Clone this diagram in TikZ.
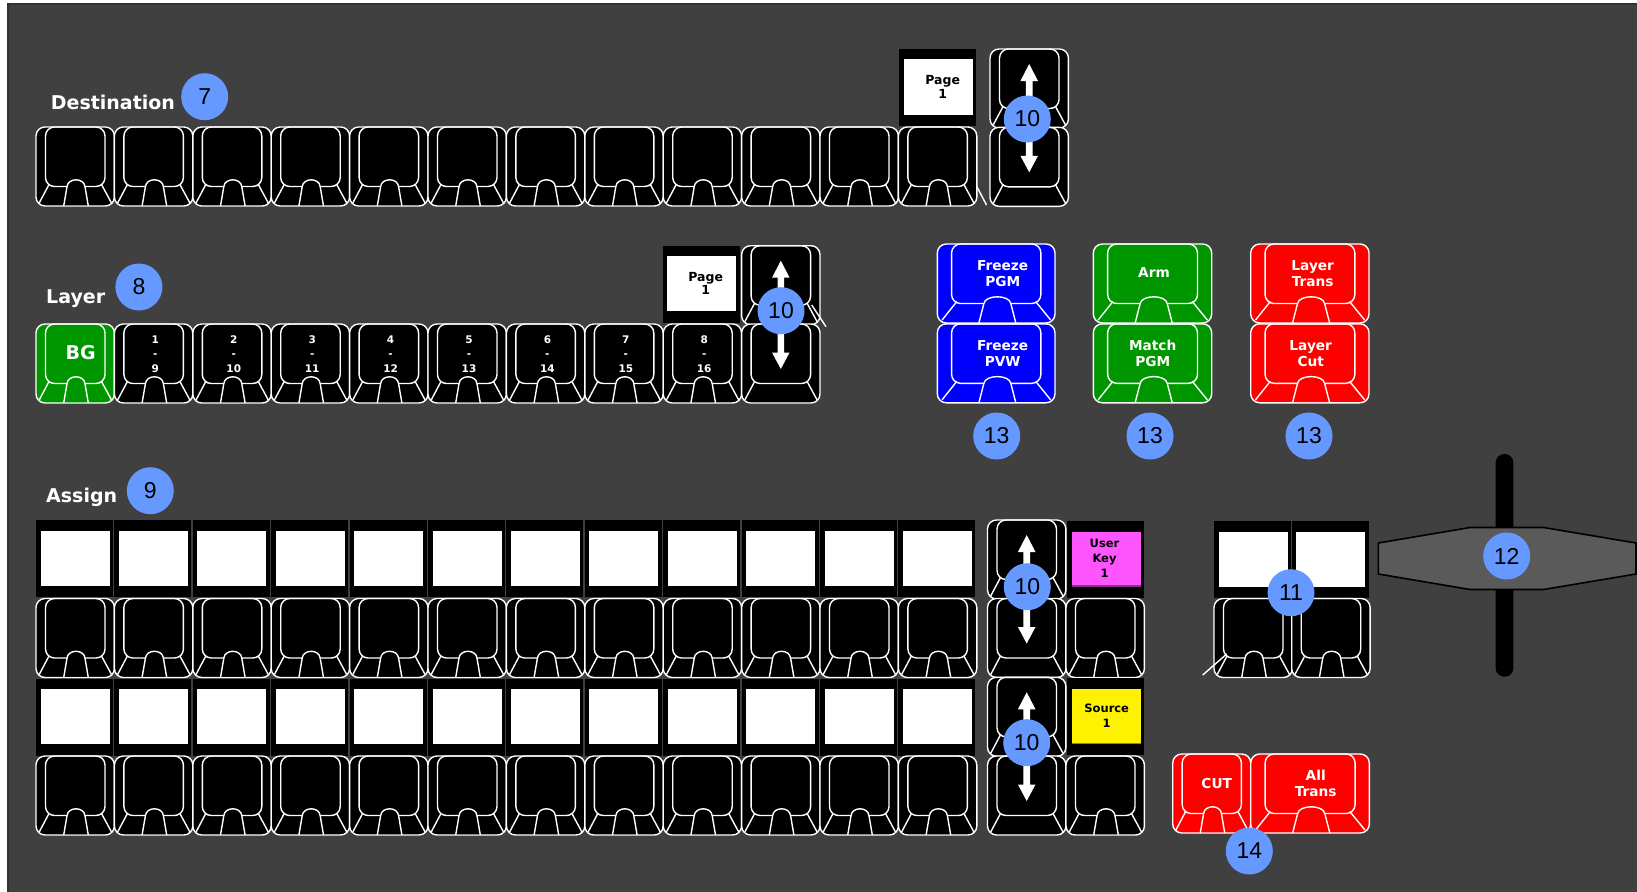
\documentclass[tikz,border=0pt]{standalone}
\usepackage{fontspec}
\newfontfamily\lblfont{DejaVu Sans}
\newfontfamily\numfont{Liberation Sans}
\definecolor{panel}{HTML}{404040}
\definecolor{callout}{HTML}{6699FF}
\definecolor{bgreen}{RGB}{0,150,0}
\definecolor{keymag}{HTML}{FF55FF}
\definecolor{handlegray}{HTML}{5A5A5A}
\tikzset{
  bl/.style={draw=white, line width=1.4pt},
  pics/keybtn/.style={code={
    \draw[bl, fill=#1, rounded corners=9pt] (0,0) rectangle (78.4,79);
    \draw[bl, rounded corners=9pt] (9.5,0) rectangle (69,59.5);
    \draw[bl] (13,57.5) -- (3.2,76);
    \draw[bl] (65.5,57.5) -- (75.5,76);
    \fill[#1] (28,78.2) -- (31,59.7) .. controls (31.8,50.5) and (48.2,50.5) .. (49,59.7) -- (52,78.2) -- cycle;
    \draw[bl] (27.7,79) -- (31,59.7) .. controls (31.8,50.5) and (48.2,50.5) .. (49,59.7) -- (52.3,79);
  }},
  pics/arrbase/.style={code={
    \draw[bl, fill=black, rounded corners=9pt] (0,0) rectangle (78.4,79);
    \draw[bl, rounded corners=9pt] (9.5,0) rectangle (69,59.5);
    \draw[bl] (13,57.5) -- (3.2,76);
    \draw[bl] (65.5,57.5) -- (75.5,76);
  }},
  pics/upbtn/.style={code={
    \pic {arrbase};
    \fill[white] (39.2,15) -- (48,32) -- (42.5,32) -- (42.5,66) -- (35.9,66) -- (35.9,32) -- (30.4,32) -- cycle;
  }},
  pics/downbtn/.style={code={
    \pic {arrbase};
    \fill[white] (39.2,45) -- (48,28.5) -- (42.5,28.5) -- (42.5,6) -- (35.9,6) -- (35.9,28.5) -- (30.4,28.5) -- cycle;
  }},
  pics/lcd/.style={code={
    \fill[black] (0,0) rectangle (77,77);
    \fill[#1] (4.5,10.5) rectangle (73.5,65.5);
  }},
  callout/.style={circle, fill=callout, minimum size=47pt, inner sep=0pt, text=black,
    font=\numfont\fontsize{23}{23}\selectfont},
  section/.style={anchor=base west, inner sep=0pt, text=white,
    font=\lblfont\bfseries\fontsize{19}{19}\selectfont},
  keytext/.style={align=center, text=white, inner sep=0pt,
    font=\lblfont\bfseries\fontsize{13.7}{16}\selectfont},
  numtext/.style={align=center, text=white, inner sep=0pt,
    font=\lblfont\bfseries\fontsize{10.5}{14.5}\selectfont},
  lcdtext/.style={align=center, text=black, inner sep=0pt,
    font=\lblfont\bfseries\fontsize{12.5}{13.5}\selectfont},
  lcdsmall/.style={align=center, text=black, inner sep=0pt,
    font=\lblfont\bfseries\fontsize{11.5}{15}\selectfont},
}
\begin{document}
\begin{tikzpicture}[x=1pt, y=-1pt]
\useasboundingbox (0,0) rectangle (1637,891);
\clip (0,0) rectangle (1637,891);
\fill[white] (0,0) rectangle (1637,891);
\filldraw[fill=panel, draw=black!80, line width=1.2pt] (8,4) rectangle (1660,910);

% section labels
\node[section] (destlbl) at (50.7,109) {Destination};
\node[section] (layerlbl) at (46,303) {Layer};
\node[section] (assignlbl) at (46,502) {Assign};

% Destination row
\foreach \i in {0,...,11} \pic at ({36+78.4*\i},127) {keybtn=black};
\pic at (899,49) {lcd=white};
\node[lcdtext] (destpage) at (942.7,87) {Page\\1};
\pic at (990,49) {upbtn};
\pic at (990,127.3) {downbtn};
\draw[bl] (976.5,186) -- (986.5,205);

% Layer row
\pic at (36,324) {keybtn=bgreen};
\node[text=white, inner sep=0pt, font=\lblfont\bfseries\fontsize{19}{19}\selectfont] (bg) at (80.7,352.7) {BG};
\foreach \i [evaluate=\i as \j using int(\i+8)] in {1,...,8} {
  \pic at ({36+78.4*\i},324) {keybtn=black};
  \node[numtext] (ly\i) at ({36+78.4*\i+41},353.8) {\i\\-\\\j};
}
\pic at (662.7,245.7) {lcd=white};
\node[lcdtext] (layerpage) at (705.7,283.3) {Page\\1};
\pic at (741.6,245.7) {upbtn};
\pic at (741.6,324) {downbtn};
\draw[bl] (811.7,305) -- (826,326.7);

% Colored keys
\pic[xscale=1.501] at (937.3,244) {keybtn=blue};
\pic[xscale=1.501] at (937.3,323.8) {keybtn=blue};
\pic[xscale=1.510] at (1093.3,244) {keybtn=bgreen};
\pic[xscale=1.510] at (1093.3,323.8) {keybtn=bgreen};
\pic[xscale=1.509] at (1250.7,244) {keybtn=red};
\pic[xscale=1.509] at (1250.7,323.8) {keybtn=red};
\node[keytext] (frpgm) at (1002.7,273.3) {Freeze\\PGM};
\node[keytext] (frpvw) at (1002.7,353.3) {Freeze\\PVW};
\node[keytext] (arm) at (1154,272.3) {Arm};
\node[keytext] (match) at (1152.7,353.3) {Match\\PGM};
\node[keytext] (ltrans) at (1312.7,273.3) {Layer\\Trans};
\node[keytext] (lcut) at (1310.7,353.3) {Layer\\Cut};

% Assign rows
\foreach \i in {0,...,11} {
  \pic at ({36+78.4*\i},520) {lcd=white};
  \pic at ({36+78.4*\i},598.5) {keybtn=black};
  \pic at ({36+78.4*\i},678.5) {lcd=white};
  \pic at ({36+78.4*\i},756) {keybtn=black};
}
\pic at (987.5,520) {upbtn};
\pic at (987.5,598.5) {downbtn};
\pic at (987.5,677.3) {upbtn};
\pic at (987.5,756) {downbtn};

\pic at (1067.3,521) {lcd=keymag};
\draw[keymag!55!black, line width=1.2pt] (1071.8,586) -- (1140.8,586);
\node[lcdsmall] (ukey) at (1104.5,558.3) {User\\Key\\1};
\pic at (1066,598.5) {keybtn=black};
\pic at (1067.3,678.3) {lcd=yellow};
\draw[yellow!45!black, line width=1.2pt] (1071.8,743.3) -- (1140.8,743.3);
\node[lcdsmall] (src) at (1106.7,715.5) {Source\\1};
\pic at (1066,756) {keybtn=black};

% 11 group
\pic at (1214,521) {lcd=white};
\pic at (1291.7,521) {lcd=white};
\pic at (1214,598.5) {keybtn=black};
\pic at (1291.7,598.5) {keybtn=black};
\draw[bl] (1226.7,654) -- (1202.7,675);

% CUT / All Trans
\pic[xscale=0.995] at (1172.7,754) {keybtn=red};
\pic[xscale=1.513] at (1250.7,754) {keybtn=red};
\node[keytext] (cut) at (1216.7,783.3) {CUT};
\node[keytext] (alltrans) at (1315.7,783.3) {All\\Trans};

% Fader
\fill[black, rounded corners=8.5pt] (1495.7,454) rectangle (1513.3,676.7);
\filldraw[fill=handlegray, draw=black, line width=1.6pt]
  (1378.3,543) -- (1470,527.5) -- (1543.5,527.5) -- (1636,543) -- (1636,574)
  -- (1543.5,589.5) -- (1470,589.5) -- (1378.3,574) -- cycle;

% Callouts
\node[callout] (c7) at (204.7,96.7) {7};
\node[callout] (c8) at (138.9,287) {8};
\node[callout] (c9) at (150.3,490.7) {9};
\node[callout] (c10a) at (1027.3,119) {10};
\node[callout] (c10b) at (781,310.7) {10};
\node[callout] (c10c) at (1027.3,586.7) {10};
\node[callout] (c10d) at (1026.7,742.7) {10};
\node[callout] (c11) at (1291,592.7) {11};
\node[callout] (c12) at (1506.7,556) {12};
\node[callout] (c13a) at (996.7,436) {13};
\node[callout] (c13b) at (1150,436) {13};
\node[callout] (c13c) at (1309,436) {13};
\node[callout] (c14) at (1249.3,851) {14};
\end{tikzpicture}
\end{document}
